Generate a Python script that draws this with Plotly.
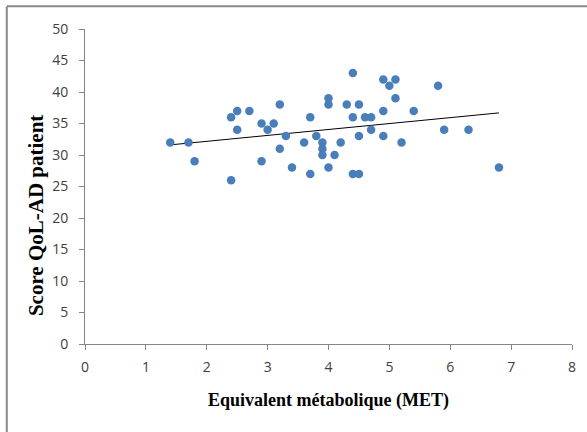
import numpy as np
import plotly.graph_objects as go

met = [1.4, 1.7, 1.8, 2.4, 2.4, 2.5, 2.5, 2.7, 2.9, 2.9, 3.0, 3.1, 3.2, 3.2, 3.3, 3.4,
       3.6, 3.7, 3.7, 3.8, 3.9, 3.9, 3.9, 4.0, 4.0, 4.0, 4.1, 4.2, 4.3, 4.4, 4.4, 4.4,
       4.5, 4.5, 4.5, 4.6, 4.7, 4.7, 4.9, 4.9, 4.9, 5.0, 5.1, 5.1, 5.2, 5.4, 5.8, 5.9,
       6.3, 6.8]
score = [32, 32, 29, 36, 26, 37, 34, 37, 35, 29, 34, 35, 38, 31, 33, 28,
         32, 36, 27, 33, 32, 31, 30, 39, 38, 28, 30, 32, 38, 43, 36, 27,
         27, 38, 33, 36, 36, 34, 42, 37, 33, 41, 42, 39, 32, 37, 41, 34,
         34, 28]

x_ticks = [0, 1, 2, 3, 4, 5, 6, 7, 8]
y_ticks = [0, 5, 10, 15, 20, 25, 30, 35, 40, 45, 50]

x_title = "Equivalent métabolique (MET)"
y_title = "Score QoL-AD patient"

slope, intercept = np.polyfit(met, score, 1)
x_fit = [min(met), max(met)]
y_fit = [slope * v + intercept for v in x_fit]

fig = go.Figure()
fig.add_trace(go.Scatter(
    x=x_fit, y=y_fit, mode="lines",
    line=dict(color="black", width=1), showlegend=False, hoverinfo="skip"))
fig.add_trace(go.Scatter(
    x=met, y=score, mode="markers",
    marker=dict(color="#4a7ebb", size=8.5, line=dict(width=0)),
    showlegend=False))

axis_common = dict(
    showgrid=False, zeroline=False, showline=True, linecolor="#868686",
    linewidth=1, ticks="outside", ticklen=5, tickcolor="#868686",
    tickfont=dict(family="Open Sans", size=14, color="#404040"),
)

title_font = dict(family="Liberation Serif", color="black", weight="bold")

fig.update_layout(
    width=587, height=432,
    margin=dict(l=85, r=15, t=29, b=88),
    paper_bgcolor="white", plot_bgcolor="white",
    xaxis=dict(range=[0, 8], tickvals=x_ticks, ticklabelstandoff=5, **axis_common),
    yaxis=dict(range=[0, 50], tickvals=y_ticks, ticklabelstandoff=8, **axis_common),
    annotations=[
        dict(text=x_title, xref="paper", yref="paper", x=0.5, y=-0.178,
             xanchor="center", yanchor="middle", showarrow=False,
             font=dict(size=18, **title_font)),
        dict(text=y_title, xref="paper", yref="paper", x=-0.1006, y=0.406,
             xanchor="center", yanchor="middle", showarrow=False, textangle=-90,
             font=dict(size=21, **title_font)),
    ],
    shapes=[
        dict(type="line", xref="paper", yref="paper", x0=-0.16, x1=1.1, y0=1.072, y1=1.072,
             line=dict(color="#888888", width=2)),
        dict(type="line", xref="paper", yref="paper", x0=-0.1606, x1=-0.1606, y0=1.072, y1=-0.4,
             line=dict(color="#888888", width=2)),
    ],
)

fig.write_html("out.html", config={"displayModeBar": False},
               post_script="document.body.style.margin='0';")
